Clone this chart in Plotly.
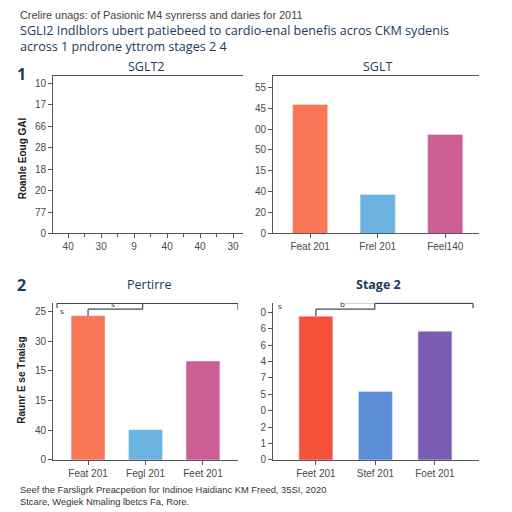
import plotly.graph_objects as go

# ---------------- data ----------------
subtitle = "Crelire unags: of Pasionic M4 synrerss and daries for 2011"
title_lines = ["SGLI2 Indlblors ubert patiebeed to cardio-enal benefis acros CKM sydenis",
               "across 1 pndrone yttrom stages 2 4"]
footnote_lines = ["Seef the Farsligrk Preacpetion for Indinoe Haidianc KM Freed, 35SI, 2020",
                  "Stcare, Wegiek Nmaling lbetcs Fa, Rore."]

p1_title = "SGLT2"
p1_x_labels = ["40", "30", "9", "40", "40", "30"]
p1_y_labels = ["0", "77", "20", "18", "28", "66", "17", "10"]
p1_y_title = "Roanle Eoug GAl"

p2_title = "SGLT"
p2_categories = ["Feat 201", "Frel 201", "Feel140"]
p2_values = [6.17, 1.87, 4.74]
p2_y_labels = ["0", "20", "40", "15", "50", "00", "45", "55"]
p2_colors = ["#fb7657", "#6bb3e0", "#cc5e95"]

p3_title = "Pertirre"
p3_categories = ["Feat 201", "Fegl 201", "Feet 201"]
p3_values = [4.86, 1.02, 3.33]
p3_y_labels = ["0", "40", "15", "15", "30", "25"]
p3_colors = ["#fb7657", "#6bb3e0", "#cc5e95"]
p3_y_title = "Raunr E se Tnaisg"

p4_title = "<b>Stage 2</b>"
p4_categories = ["Feet 201", "Stef 201", "Foet 201"]
p4_values = [8.77, 4.17, 7.85]
p4_y_labels = ["0", "1", "2", "0", "5", "7", "4", "6", "6", "0"]
p4_colors = ["#f5513a", "#5b8ed6", "#7a5db2"]

# ---------------- helpers ----------------
W, H = 512, 512
YSCALE = 505.0   # vertical layout reference
def px(x):
    return x / W
def py(y):
    return 1 - y / YSCALE

NAVY = "#1b3a5a"
AX = "#555555"
TICKFONT = dict(family="Liberation Sans, Arial, sans-serif", size=10, color="#4a4a4a")

fig = go.Figure()

fig.add_trace(go.Scatter(x=[], y=[], xaxis="x", yaxis="y", showlegend=False))
fig.add_trace(go.Bar(x=p2_categories, y=p2_values, marker_color=p2_colors, width=0.52,
                     xaxis="x2", yaxis="y2", showlegend=False))
fig.add_trace(go.Bar(x=p3_categories, y=p3_values, marker_color=p3_colors, width=0.59,
                     xaxis="x3", yaxis="y3", showlegend=False))
fig.add_trace(go.Bar(x=p4_categories, y=p4_values, marker_color=p4_colors, width=0.57,
                     xaxis="x4", yaxis="y4", showlegend=False))

def xax(domain, anchor, rng, mirror, **kw):
    d = dict(domain=domain, anchor=anchor, range=rng, showline=True, linecolor=AX, linewidth=1,
             mirror=mirror, ticks="outside", ticklen=4, tickcolor=AX, tickfont=TICKFONT,
             showgrid=False, zeroline=False, fixedrange=True)
    d.update(kw)
    return d

def yax(domain, anchor, rng, labels):
    return dict(domain=domain, anchor=anchor, range=rng, showline=True, linecolor=AX, linewidth=1,
                ticks="outside", ticklen=4, tickcolor=AX, tickfont=TICKFONT,
                tickvals=list(range(len(labels))), ticktext=labels,
                showgrid=False, zeroline=False, fixedrange=True)

top_y = [py(233), py(76)]
bot_y = [py(459), py(302)]
left_x = [px(53), px(243)]
left_x3 = [px(53), px(238)]
right_x = [px(273), px(479)]

fig.update_layout(
    xaxis=xax(left_x, "y", [-0.46, 5.3], True,
              tickvals=list(range(len(p1_x_labels))), ticktext=p1_x_labels,
              minor=dict(ticks="outside", ticklen=3, tickcolor=AX, dtick=0.5, tick0=0.5)),
    yaxis=yax(top_y, "x", [0, 7.33], p1_y_labels),
    xaxis2=xax(right_x, "y2", [-0.55, 2.5], True),
    yaxis2=yax(top_y, "x2", [0, 7.53], p2_y_labels),
    xaxis3=xax(left_x3, "y3", [-0.61, 2.61], False),
    yaxis3=yax(bot_y, "x3", [0, 5.3], p3_y_labels),
    xaxis4=xax(right_x, "y4", [-0.72, 2.74], False),
    yaxis4=yax(bot_y, "x4", [0, 9.6], p4_y_labels),
)

def pa(text, x, y, font, xanchor="center", **kw):
    d = dict(text=text, x=px(x), y=py(y), xref="paper", yref="paper", xanchor=xanchor,
             yanchor="middle", showarrow=False, font=font)
    d.update(kw)
    return d

ann = []
ann.append(pa(subtitle, 18, 15, dict(family="Liberation Sans, Arial, sans-serif", size=10.9, color="#444444"),
              xanchor="left"))
ann.append(pa("<br>".join(title_lines), 18, 38,
              dict(family="Open Sans, sans-serif", size=12.6, color=NAVY),
              xanchor="left", align="left"))
ann.append(pa("<br>".join(footnote_lines), 18, 495,
              dict(family="Liberation Sans, Arial, sans-serif", size=9.4, color="#333333"),
              xanchor="left", align="left"))
for num, yy in (("1", 74), ("2", 284)):
    ann.append(pa("<b>%s</b>" % num, 21, yy, dict(family="Open Sans, sans-serif", size=16, color=NAVY)))
for t, xx, yy in ((p1_title, 146, 66), (p2_title, 377, 66), (p3_title, 149, 284), (p4_title, 378, 284)):
    ann.append(pa(t, xx, yy, dict(family="Open Sans, sans-serif", size=12.5, color=NAVY)))
for t, yy in ((p1_y_title, 158), (p3_y_title, 380)):
    ann.append(pa("<b>%s</b>" % t, 22, yy,
                  dict(family="Liberation Sans, Arial, sans-serif", size=10, color="#222222"),
                  textangle=-90))

# brackets
LC = dict(color="#3d4a5c", width=1.2)
shapes = []
def seg(xr, yr, x0, y0, x1, y1, line=LC):
    shapes.append(dict(type="line", xref=xr, yref=yr, x0=x0, y0=y0, x1=x1, y1=y1, line=line))

# panel 3
o3, i3 = 5.27, 5.08
seg("x3", "y3", -0.54, o3, 2.61, o3)
seg("x3", "y3", 2.61, o3, 2.61, 5.05)
seg("x3", "y3", -0.54, o3, -0.54, 5.12)
seg("x3", "y3", 0, p3_values[0], 0, i3)
seg("x3", "y3", 0, i3, 0.95, i3)
seg("x3", "y3", 0.95, i3, 0.95, o3)
ann.append(dict(text="s", x=-0.53, y=o3, xref="x3", yref="y3", showarrow=False, xanchor="left",
                yanchor="top", font=dict(size=8, color="#333")))
ann.append(dict(text="s", x=0.44, y=o3, xref="x3", yref="y3", showarrow=False,
                yanchor="middle", font=dict(size=8, color="#333")))
# panel 4
o4, i4 = 9.55, 9.2
seg("x4", "y4", 0.99, o4, 2.64, o4)
seg("x4", "y4", 2.64, o4, 2.64, 9.25)
seg("x4", "y4", 0.49, o4, 0.99, o4, dict(color="#c9d3e0", width=1))
seg("x4", "y4", 0, p4_values[0], 0, i4)
seg("x4", "y4", 0, i4, 0.99, i4)
seg("x4", "y4", 0.99, i4, 0.99, o4)
ann.append(dict(text="s", x=-0.6, y=9.4, xref="x4", yref="y4", showarrow=False,
                font=dict(size=8, color="#333")))
ann.append(dict(text="b", x=0.45, y=o4, xref="x4", yref="y4", showarrow=False,
                font=dict(size=8, color="#333")))

fig.update_layout(annotations=ann, shapes=shapes, width=W, height=H,
                  margin=dict(l=0, r=0, t=0, b=0), plot_bgcolor="white", paper_bgcolor="white",
                  bargap=0.4)

fig.write_html("out.html", config={"displayModeBar": False},
               post_script="document.body.style.margin='0';document.body.style.overflow='hidden';"
                           "document.documentElement.style.overflow='hidden';")
